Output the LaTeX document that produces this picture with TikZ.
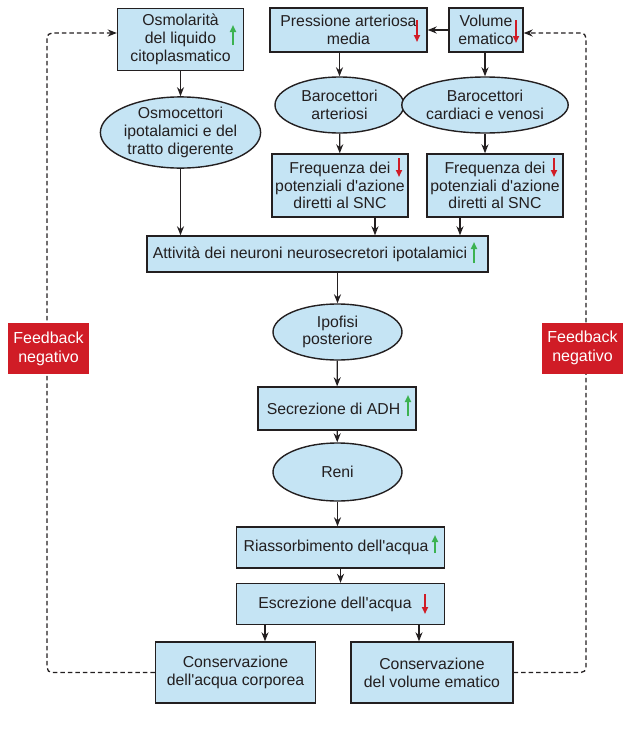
\documentclass[tikz,border=0pt]{standalone}
\usepackage{fontspec}
\setmainfont{Liberation Sans}[Ligatures=TeXOff]
\usetikzlibrary{arrows.meta,shapes.geometric,positioning}
\definecolor{cella}{RGB}{197,228,244}
\definecolor{rosso}{RGB}{208,28,38}
\definecolor{verde}{RGB}{60,178,80}
\definecolor{tratto}{RGB}{35,31,32}

\begin{document}
\begin{tikzpicture}[x=1pt, y=-1pt,
  box/.style={draw=tratto, line width=1.4pt, fill=cella, align=center, inner sep=0pt, text=tratto, font=\fontsize{15.8}{17.8}\selectfont},
  oval/.style={box, ellipse},
  fbbox/.style={fill=rosso, text=white, align=center, inner sep=0pt, minimum width=81pt, minimum height=51pt, font=\fontsize{16}{19}\selectfont},
  arr/.style={-{Stealth[length=9pt,width=7pt]}, line width=1.3pt, draw=tratto},
  fb/.style={arr, dash pattern=on 4.5pt off 3pt, rounded corners=5pt},
  su/.style={-{Triangle[length=7pt,width=6pt]}, line width=1.7pt, draw=verde, fill=verde},
  giu/.style={su, draw=rosso, fill=rosso}
]
\useasboundingbox (0,0) rectangle (635,731);

% colonna osmotica
\node[box, minimum width=126pt, minimum height=62pt] (osm) at (180.5,39.5) {Osmolarità\\del liquido\\citoplasmatico};
\node[oval, minimum width=160pt, minimum height=71pt] (osmc) at (180.5,132.5) {Osmocettori\\ipotalamici e del\\tratto digerente};

% colonna pressoria
\node[box, minimum width=157pt, minimum height=44pt] (pam) at (348.5,30) {Pressione arteriosa\hspace{6pt}\\media\hspace{6pt}};
\node[box, minimum width=74pt, minimum height=44pt] (vol) at (486,30) {Volume\hspace{6pt}\\ematico\hspace{6pt}};
\node[oval, minimum width=129pt, minimum height=56pt] (bart) at (339.5,105) {Barocettori\\arteriosi};
\node[oval, minimum width=136pt, minimum height=56pt] (bcv) at (485,105) {Barocettori\\cardiaci e venosi};
\node[box, minimum width=136pt, minimum height=63pt] (fq1) at (340,185.5) {Frequenza dei\\potenziali d'azione\\diretti al SNC};
\node[box, minimum width=136pt, minimum height=63pt] (fq2) at (495,185.5) {Frequenza dei\\potenziali d'azione\\diretti al SNC};

% catena centrale
\node[box, minimum width=341pt, minimum height=36pt] (att) at (317.5,254) {Attività dei neuroni neurosecretori ipotalamici\hspace{15pt}};
\node[oval, minimum width=129pt, minimum height=56pt] (ipo) at (337.5,332) {Ipofisi\\posteriore};
\node[box, minimum width=158pt, minimum height=43pt] (adh) at (337,408.5) {Secrezione di ADH\hspace{7pt}};
\node[oval, minimum width=129pt, minimum height=58pt] (reni) at (337.5,472) {Reni};
\node[box, minimum width=208pt, minimum height=41pt] (ria) at (340.5,547.5) {Riassorbimento dell'acqua\hspace{9pt}};
\node[box, minimum width=208pt, minimum height=41pt] (esc) at (340.5,604) {Escrezione dell'acqua\hspace{11pt}};
\node[box, minimum width=160pt, minimum height=61pt] (cac) at (235.5,672.5) {Conservazione\\dell'acqua corporea};
\node[box, minimum width=162pt, minimum height=61pt] (cve) at (432,672.5) {Conservazione\\del volume ematico};

% frecce
\draw[arr] (osm) -- (osmc);
\draw[arr] (osmc.south) -- (osmc.south |- att.north);
\draw[arr] (vol) -- (pam);
\draw[arr] (bart.north |- pam.south) -- (bart.north);
\draw[arr] (bcv.north |- vol.south) -- (bcv.north);
\draw[arr] (bart) -- (fq1);
\draw[arr] (bcv.south) -- (bcv.south |- fq2.north);
\draw[arr] ([xshift=35pt]fq1.south) -- ([xshift=35pt]fq1.south |- att.north);
\draw[arr] ([xshift=-35pt]fq2.south) -- ([xshift=-35pt]fq2.south |- att.north);
\draw[arr] (ipo.north |- att.south) -- (ipo.north);
\draw[arr] (ipo) -- (adh);
\draw[arr] (adh) -- (reni);
\draw[arr] (reni.south) -- (reni.south |- ria.north);
\draw[arr] (ria) -- (esc);
\draw[arr] ([xshift=-75.5pt]esc.south) -- ([xshift=-75.5pt]esc.south |- cac.north);
\draw[arr] ([xshift=78.5pt]esc.south) -- ([xshift=78.5pt]esc.south |- cve.north);

% anelli di feedback
\draw[fb] (cac.west) -| (47,33) -- ([yshift=6.5pt]osm.west);
\draw[fb] (cve.east) -| (586,33) -- ([yshift=-3pt]vol.east);
\node[fbbox] (fbl) at (48.5,348.5) {Feedback\\negativo};
\node[fbbox] (fbr) at (582.5,348) {Feedback\\negativo};

% indicatori
\draw[su] (233,45) -- (233,25);
\draw[giu] (417,20) -- (417,42);
\draw[giu] (516,20) -- (516,43);
\draw[giu] (399,158) -- (399,177);
\draw[giu] (554,158) -- (554,177);
\draw[su] (474,263) -- (474,242);
\draw[su] (408,416) -- (408,395);
\draw[su] (435,553) -- (435,535);
\draw[giu] (425,594) -- (425,614);
\end{tikzpicture}
\end{document}
